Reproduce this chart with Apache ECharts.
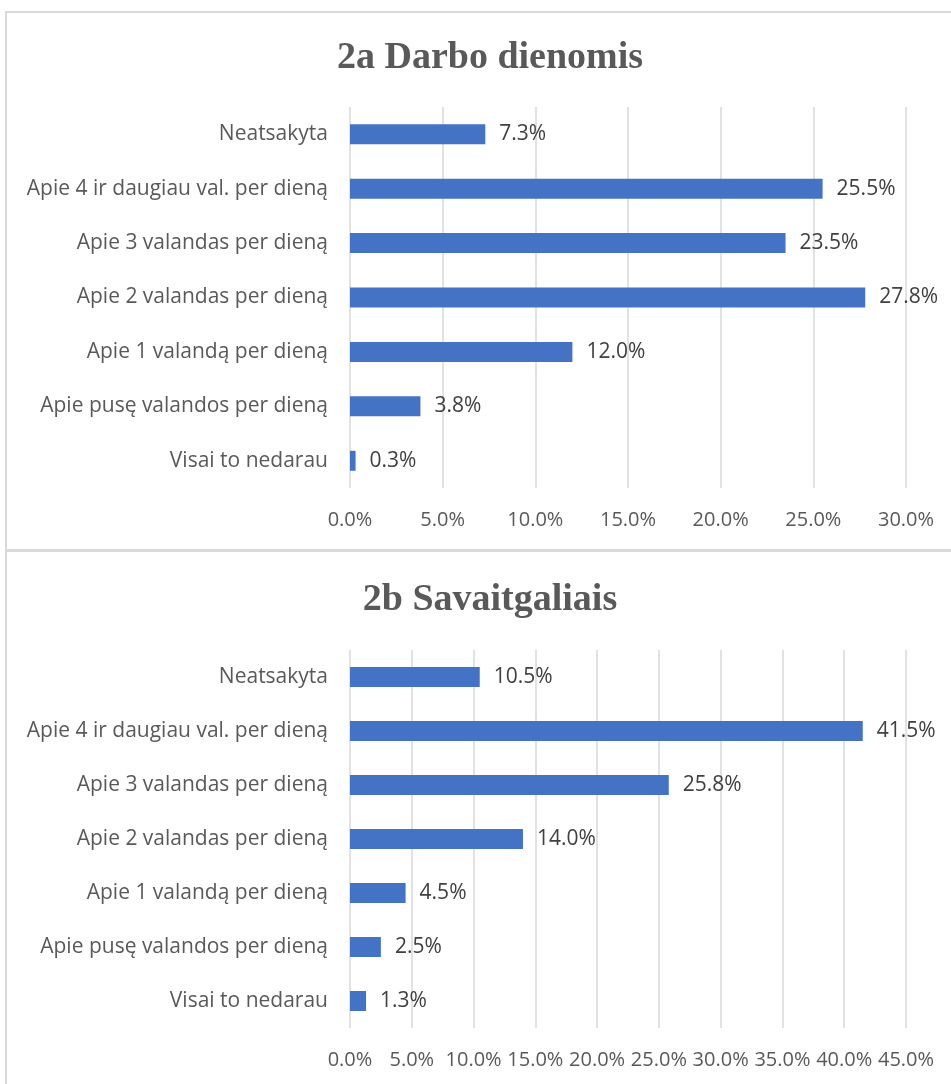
<!DOCTYPE html>
<html><head><meta charset="utf-8">
<script src="https://cdn.jsdelivr.net/npm/echarts@6/dist/echarts.min.js"></script>
<style>html,body{margin:0;padding:0;background:#fff}#c{width:951px;height:1084px}</style>
</head><body><div id="c"></div>
<script>
const categories = ['Neatsakyta','Apie 4 ir daugiau val. per dieną','Apie 3 valandas per dieną','Apie 2 valandas per dieną','Apie 1 valandą per dieną','Apie pusę valandos per dieną','Visai to nedarau'];
const weekdays = [7.3, 25.5, 23.5, 27.8, 12.0, 3.8, 0.3];
const weekends = [10.5, 41.5, 25.8, 14.0, 4.5, 2.5, 1.3];
const titles = ['2a Darbo dienomis', '2b Savaitgaliais'];

const chart = echarts.init(document.getElementById('c'));
const font = 'Open Sans';
function xAx(gi, max){
  return {type:'value', gridIndex:gi, min:0, max:max, interval:5,
    axisLine:{show:false}, axisTick:{show:false},
    axisLabel:{formatter:v=>v.toFixed(1)+'%', color:'#595959', fontSize:20, fontFamily:font, margin:22},
    splitLine:{show:true, lineStyle:{color:'#D9D9D9', width:1.5}}};
}
function yAx(gi){
  return {type:'category', gridIndex:gi, data:categories, inverse:true,
    axisLine:{show:false}, axisTick:{show:false},
    axisLabel:{color:'#595959', fontSize:21, fontFamily:font, margin:22}};
}
function ser(gi, data){
  return {type:'bar', xAxisIndex:gi, yAxisIndex:gi, data:data, barWidth:20,
    itemStyle:{color:'#4472C4'},
    label:{show:true, position:'right', distance:14, formatter:p=>p.value.toFixed(1)+'%', color:'#404040', fontSize:21, fontFamily:font}};
}
chart.setOption({
  animation:false,
  title:[
    {text:titles[0], left:485, top:34, textAlign:'center', textStyle:{fontFamily:'Liberation Serif', fontWeight:'bold', fontSize:38, color:'#595959'}},
    {text:titles[1], left:485, top:576, textAlign:'center', textStyle:{fontFamily:'Liberation Serif', fontWeight:'bold', fontSize:38, color:'#595959'}}
  ],
  grid:[
    {left:350, right:45, top:107, height:381},
    {left:350, right:45, top:650, height:378}
  ],
  xAxis:[xAx(0,30), xAx(1,45)],
  yAxis:[yAx(0), yAx(1)],
  series:[ser(0,weekdays), ser(1,weekends)],
  graphic:[
    {type:'rect', shape:{x:6, y:12, width:960, height:538}, style:{fill:'none', stroke:'#D9D9D9', lineWidth:2}},
    {type:'rect', shape:{x:6, y:551, width:960, height:560}, style:{fill:'none', stroke:'#D9D9D9', lineWidth:2}}
  ]
});
</script></body></html>
